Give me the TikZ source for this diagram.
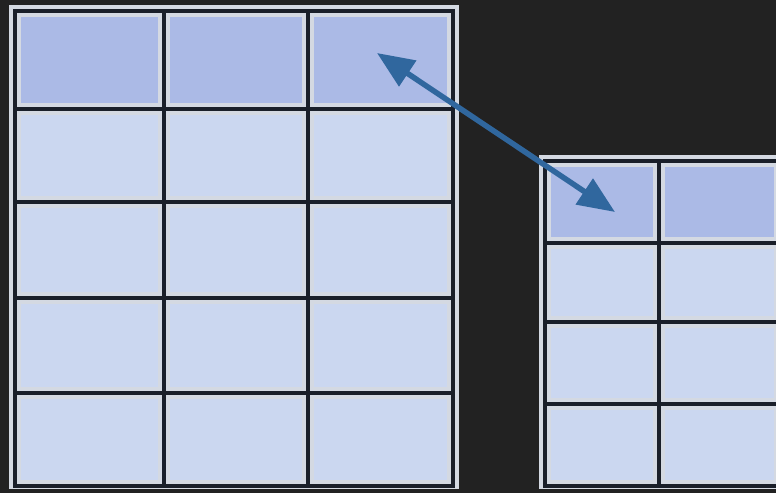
\documentclass[tikz,border=0pt]{standalone}
\usetikzlibrary{arrows.meta}
\definecolor{bg}{HTML}{222222}
\definecolor{hdr}{HTML}{ABBAE6}
\definecolor{bodyc}{HTML}{CBD7F0}
\definecolor{rim}{HTML}{D4D9E2}
\definecolor{gridc}{HTML}{1A1F29}
\definecolor{arr}{HTML}{30679E}
\tikzset{
  cell/.style={rectangle, draw=rim, line width=12pt, inner sep=0pt, outer sep=0pt},
  hcell/.style={cell, fill=hdr},
  bcell/.style={cell, fill=bodyc},
  gridline/.style={draw=gridc, line width=4.5pt, line cap=rect},
  link/.style={draw=arr, line width=5.5pt,
    {Triangle[length=37pt,width=30pt]}-{Triangle[length=37pt,width=30pt]}}
}
\begin{document}
\begin{tikzpicture}[x=1pt,y=-1pt]
\useasboundingbox (0,0) rectangle (776,493);
\fill[bg] (0,0) rectangle (776,493);
% left table cells
\foreach \xa/\xb/\c in {15/164/1,164/308/2,308/453/3}{
  \foreach \ya/\yb/\r in {11/109/1,109/202/2,202/298/3,298/393/4,393/486/5}{
    \pgfmathsetmacro\w{\xb-\xa}
    \pgfmathsetmacro\h{\yb-\ya}
    \ifnum\r=1
      \node[hcell, minimum width=\w pt, minimum height=\h pt] (L\r\c) at ({(\xa+\xb)/2},{(\ya+\yb)/2}) {};
    \else
      \node[bcell, minimum width=\w pt, minimum height=\h pt] (L\r\c) at ({(\xa+\xb)/2},{(\ya+\yb)/2}) {};
    \fi
  }
}
% right table cells
\foreach \xa/\xb/\c in {545/659/1,659/780/2}{
  \foreach \ya/\yb/\r in {161/243/1,243/322/2,322/404/3,404/486/4}{
    \pgfmathsetmacro\w{\xb-\xa}
    \pgfmathsetmacro\h{\yb-\ya}
    \ifnum\r=1
      \node[hcell, minimum width=\w pt, minimum height=\h pt] (R\r\c) at ({(\xa+\xb)/2},{(\ya+\yb)/2}) {};
    \else
      \node[bcell, minimum width=\w pt, minimum height=\h pt] (R\r\c) at ({(\xa+\xb)/2},{(\ya+\yb)/2}) {};
    \fi
  }
}
% grid lines left
\draw[gridline] (15,11) rectangle (453,486);
\foreach \x in {164,308} \draw[gridline] (\x,11) -- (\x,486);
\foreach \y in {109,202,298,393} \draw[gridline] (15,\y) -- (453,\y);
% grid lines right
\draw[gridline] (545,161) rectangle (780,486);
\draw[gridline] (659,161) -- (659,486);
\foreach \y in {243,322,404} \draw[gridline] (545,\y) -- (780,\y);
% bottom strip
\fill[bg] (0,489) rectangle (776,493);
% arrow
\coordinate (p) at (377,53);
\coordinate (q) at (615,212);
\draw[link] (p) -- (q);
\end{tikzpicture}
\end{document}
